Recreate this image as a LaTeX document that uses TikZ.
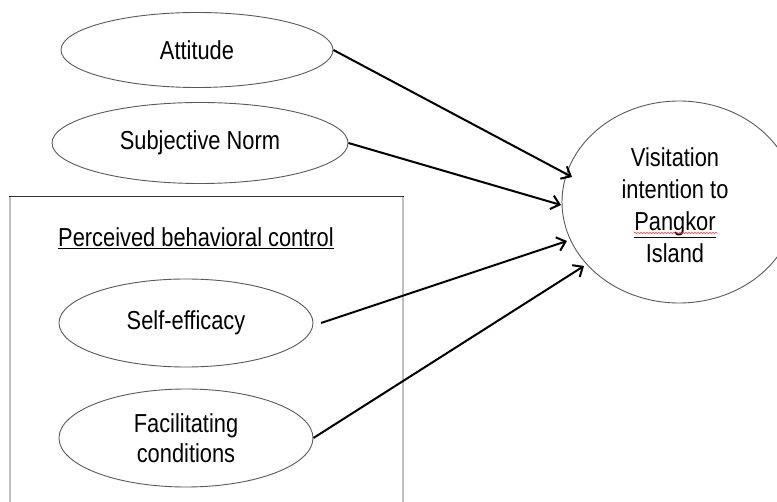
\documentclass[tikz,border=0pt]{standalone}
\usepackage{fontspec}
\setmainfont{Liberation Sans}[FakeStretch=0.84]
\usetikzlibrary{shapes.geometric,arrows.meta,decorations.pathmorphing}
\begin{document}
\begin{tikzpicture}[x=1pt,y=-1pt,
  oval/.style={ellipse,draw=black!65,line width=0.9pt,inner sep=0pt,align=center,
    font=\fontsize{26}{30}\selectfont},
  link/.style={line width=2pt,-{Straight Barb[length=8pt,width=14pt,line width=2pt]}},
  lbl/.style={inner sep=0pt,align=center,font=\fontsize{26}{32}\selectfont}]
\useasboundingbox (0,0) rectangle (777,502);
% group box (open at bottom)
\draw[black!25,line width=1.6pt] (10,502) -- (10,197.5);
\draw[black!25,line width=1.6pt] (403,502) -- (403,197.5);
\draw[black!80,line width=1pt] (9.2,197) -- (403.8,197);
\node[lbl] (pbc) at (196,238) {\underline{Perceived behavioral control}};
% predictor ovals
\node[oval,minimum width=272pt,minimum height=75pt] (att) at (197,50) {Attitude};
\node[oval,minimum width=296pt,minimum height=81pt] (sn) at (200,143) {Subjective Norm};
\node[oval,minimum width=254pt,minimum height=88pt] (se) at (186,323) {Self-efficacy};
\node[oval,minimum width=254pt,minimum height=98pt] (fc) at (186,438) {Facilitating\\conditions};
% outcome
\node[ellipse,draw=black!65,line width=0.9pt,minimum width=234pt,minimum height=202pt] (vi) at (679,202) {};
\node[lbl] (vit) at (675,205) {Visitation\\intention to\\\underline{Pangkor}\\Island};
\draw[red!80,line width=0.6pt,decorate,decoration={snake,amplitude=0.6pt,segment length=3pt}] (634,233) -- (717,233);
% arrow end points
\coordinate (t1) at (572,177);
\coordinate (t2) at (561,205);
\coordinate (t3) at (567,241);
\coordinate (t4) at (584,266);
\coordinate (s3) at (321,323);
\draw[link] (att.east) -- (t1);
\draw[link] (sn.east) -- (t2);
\draw[link] (s3) -- (t3);
\draw[link] (fc.east) -- (t4);
\end{tikzpicture}
\end{document}
